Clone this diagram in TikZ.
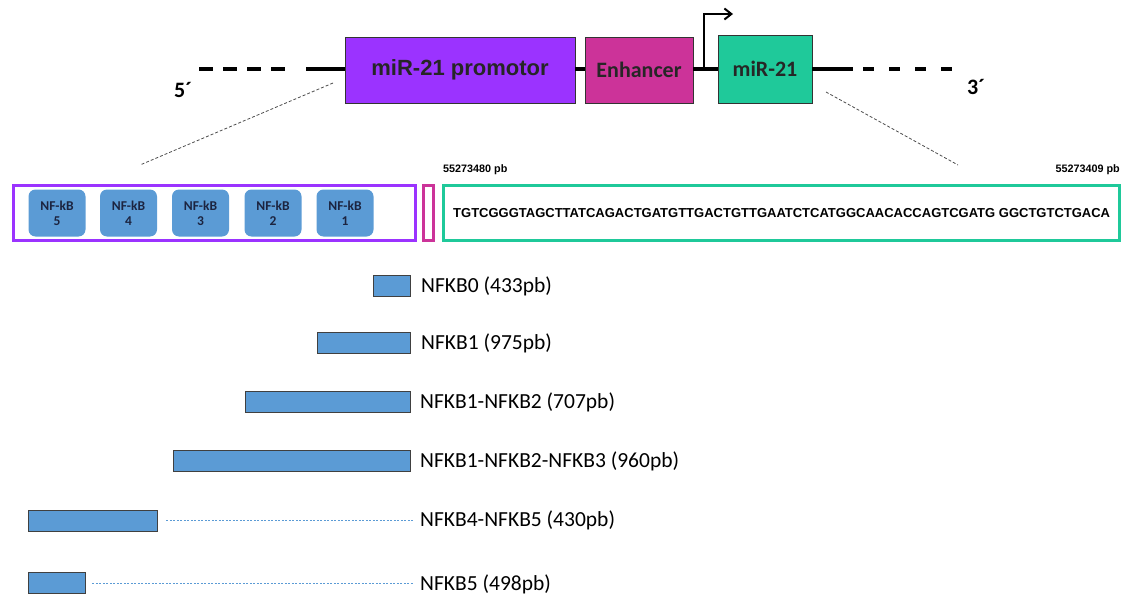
\documentclass[tikz,border=0pt]{standalone}
\usepackage{fontspec}
\setmainfont{Liberation Sans}
\newfontfamily\calib{Carlito}
\usetikzlibrary{arrows.meta}
\definecolor{promo}{HTML}{9B33FF}
\definecolor{enh}{HTML}{CC3399}
\definecolor{mirg}{HTML}{1FC99A}
\definecolor{nfblue}{HTML}{5B9BD5}
\definecolor{navy}{HTML}{1C2440}
\tikzset{
  gene/.style={draw=black!80, line width=0.8pt, inner sep=0pt},
  backbone/.style={line width=3.5pt},
  dashL/.style={line width=3.5pt, dash pattern=on 14pt off 10pt},
  dashR/.style={line width=3.5pt, dash pattern=on 11pt off 15pt},
  zoomline/.style={line width=0.8pt, black!70, dash pattern=on 3pt off 2pt},
  frame/.style={line width=3pt},
  nfbox/.style={fill=nfblue, rounded corners=7pt, minimum width=57pt, minimum height=47pt, inner sep=0pt, align=center, text=navy, font=\calib\bfseries\fontsize{13.5}{15}\selectfont},
  frag/.style={fill=nfblue, draw=black!75, line width=0.8pt, minimum height=21pt, inner sep=0pt},
  fraglabel/.style={anchor=west, inner sep=0pt, font=\calib\fontsize{21.5}{24}\selectfont},
  guide/.style={line width=0.7pt, nfblue, dash pattern=on 2pt off 1.5pt},
  pb/.style={inner sep=0pt, font=\bfseries\fontsize{10.8}{12}\selectfont}
}
\begin{document}
\begin{tikzpicture}[x=1pt,y=-1pt]
\useasboundingbox (0,0) rectangle (1126,599);
% backbone
\coordinate (L0) at (199,69);
\coordinate (L1) at (285,69);
\coordinate (L2) at (306,69);
\coordinate (R1) at (853,69);
\coordinate (R2) at (863,69);
\coordinate (R3) at (952,69);
\node[gene, fill=promo, minimum width=230pt, minimum height=66pt, font=\bfseries\fontsize{22}{24}\selectfont, text=black!85] (promo) at (460,70) {miR-21 promotor};
\node[gene, fill=enh, minimum width=108pt, minimum height=66pt, font=\calib\bfseries\fontsize{22}{24}\selectfont, text=black!85] (enh) at (639,70) {Enhancer};
\node[gene, fill=mirg, minimum width=94pt, minimum height=68pt, font=\calib\bfseries\fontsize{22}{24}\selectfont, text=black!85] (mir) at (765,69) {miR-21};
\draw[dashL] (L0) -- (L1);
\draw[backbone] (L2) -- (promo.west |- L2);
\draw[backbone] (promo.east |- L2) -- (enh.west |- L2);
\draw[backbone] (enh.east |- L2) -- (mir.west |- L2);
\draw[backbone] (mir.east |- L2) -- (R1);
\draw[dashR] (R2) -- (R3);
\coordinate (tss) at (704,69);
\coordinate (tssTop) at (704,14);
\coordinate (tssEnd) at (733,14);
\draw[line width=2.5pt, -{Straight Barb[length=7pt,width=11pt,line width=2pt]}] (tss) -- (tssTop) -- (tssEnd);
\node[font=\calib\bfseries\fontsize{22}{24}\selectfont] (five) at (183,90) {5´};
\node[font=\calib\bfseries\fontsize{22}{24}\selectfont] (three) at (976,87) {3´};
% row 2 frames
\node[draw=promo, frame, minimum width=402pt, minimum height=55pt, inner sep=0pt] (pframe) at (214,213) {};
\node[draw=enh, frame, minimum width=10pt, minimum height=55pt, inner sep=0pt] (eframe) at (428.5,213) {};
\node[draw=mirg, frame, minimum width=676pt, minimum height=55pt, inner sep=0pt] (mframe) at (781,213) {};
\node[font=\bfseries\fontsize{13}{14}\selectfont, anchor=west, inner sep=0pt] (seq) at (453,213) {TGTCGGGTAGCTTATCAGACTGATGTTGACTGTTGAATCTCATGGCAACACCAGTCGATG GGCTGTCTGACA};
\node[pb, anchor=base west] (pbL) at (443,172) {55273480 pb};
\node[pb, anchor=base east] (pbR) at (1120,172) {55273409 pb};
% zoom lines
\coordinate (zl1) at (333,83);
\coordinate (zl2) at (140,165);
\coordinate (zr1) at (826,92);
\coordinate (zr2) at (958,165);
\draw[zoomline] (zl1) -- (zl2);
\draw[zoomline] (zr1) -- (zr2);
% NF-kB sites
\node[nfbox] (nf5) at (57,213) {NF-kB\\5};
\node[nfbox] (nf4) at (128.5,213) {NF-kB\\4};
\node[nfbox] (nf3) at (200.5,213) {NF-kB\\3};
\node[nfbox] (nf2) at (273,213) {NF-kB\\2};
\node[nfbox] (nf1) at (345,213) {NF-kB\\1};
% fragments
\node[frag, minimum width=37pt] (f0) at (391.5,286) {};
\node[fraglabel] (t0) at (421,286) {NFKB0 (433pb)};
\node[frag, minimum width=93pt] (f1) at (363.5,343) {};
\node[fraglabel] (t1) at (421,343) {NFKB1 (975pb)};
\node[frag, minimum width=165pt] (f2) at (327.5,401.5) {};
\node[fraglabel] (t2) at (420,402) {NFKB1-NFKB2 (707pb)};
\node[frag, minimum width=237pt] (f3) at (291.5,460.5) {};
\node[fraglabel] (t3) at (420,461) {NFKB1-NFKB2-NFKB3 (960pb)};
\node[frag, minimum width=129pt] (f4) at (92.5,520.5) {};
\node[fraglabel] (t4) at (420,520) {NFKB4-NFKB5 (430pb)};
\node[frag, minimum width=57pt] (f5) at (56.5,583) {};
\node[fraglabel] (t5) at (420,584) {NFKB5 (498pb)};
\draw[guide] ([xshift=9pt]f4.east) -- ([xshift=-7pt]t4.west |- f4.east);
\draw[guide] ([xshift=7pt]f5.east) -- ([xshift=-7pt]t5.west |- f5.east);
\end{tikzpicture}
\end{document}
